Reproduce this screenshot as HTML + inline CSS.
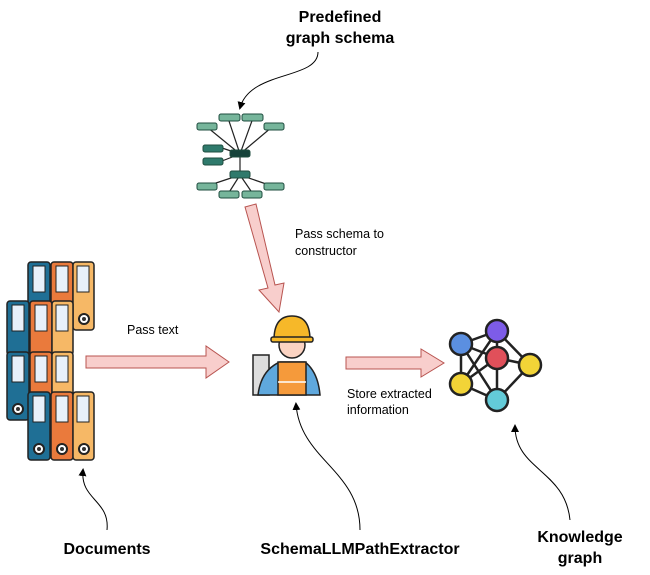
<!DOCTYPE html>
<html><head><style>
body{margin:0;background:#fff;width:650px;height:575px;overflow:hidden}
svg{display:block}
text{font-family:"Liberation Sans",Arial,sans-serif}
</style></head><body>
<svg width="650" height="575" viewBox="0 0 650 575">
<defs><marker id="ah" markerWidth="8" markerHeight="8" refX="6" refY="4" orient="auto" markerUnits="userSpaceOnUse"><path d="M0,0 L8,4 L0,8 z" fill="#000"/></marker></defs>
<g font-weight="bold" font-size="16" text-anchor="middle" fill="#000">
<text x="340" y="22">Predefined</text><text x="340" y="43">graph schema</text>
<text x="107" y="554">Documents</text>
<text x="360" y="554">SchemaLLMPathExtractor</text>
<text x="580" y="542">Knowledge</text><text x="580" y="563">graph</text>
</g>
<g font-size="12.5" fill="#000">
<text x="295" y="238">Pass schema to</text><text x="295" y="255">constructor</text>
<text x="127" y="334">Pass text</text>
<text x="347" y="398">Store extracted</text><text x="347" y="414">information</text>
</g>
<!-- schema graph -->
<g stroke="#222" stroke-width="1.2">
<line x1="240" y1="154" x2="228" y2="118"/><line x1="240" y1="154" x2="253" y2="118"/>
<line x1="240" y1="154" x2="207" y2="127"/><line x1="240" y1="154" x2="272" y2="127"/>
<line x1="240" y1="154" x2="222" y2="148"/><line x1="240" y1="154" x2="222" y2="161"/>
<line x1="240" y1="154" x2="240" y2="175"/>
<line x1="240" y1="175" x2="207" y2="186"/><line x1="240" y1="175" x2="272" y2="186"/>
<line x1="240" y1="175" x2="228" y2="194"/><line x1="240" y1="175" x2="253" y2="194"/>
</g>
<g stroke="#1f4d3f" stroke-width="1">
<rect x="219" y="114" width="21" height="7" rx="2" fill="#76b59b"/><rect x="242" y="114" width="21" height="7" rx="2" fill="#76b59b"/>
<rect x="197" y="123" width="20" height="7" rx="2" fill="#76b59b"/><rect x="264" y="123" width="20" height="7" rx="2" fill="#76b59b"/>
<rect x="203" y="145" width="20" height="7" rx="2" fill="#2f7a6c"/><rect x="203" y="158" width="20" height="7" rx="2" fill="#2f7a6c"/>
<rect x="230" y="150" width="20" height="7" rx="2" fill="#17433b"/>
<rect x="230" y="171" width="20" height="7" rx="2" fill="#2f7a6c"/>
<rect x="197" y="183" width="20" height="7" rx="2" fill="#76b59b"/><rect x="264" y="183" width="20" height="7" rx="2" fill="#76b59b"/>
<rect x="219" y="191" width="20" height="7" rx="2" fill="#76b59b"/><rect x="242" y="191" width="20" height="7" rx="2" fill="#76b59b"/>
</g>
<!-- block arrows -->
<g fill="#f8cecc" stroke="#b85450" stroke-width="1">
<path d="M86,356 L206,356 L206,346 L229,362 L206,378 L206,368 L86,368 z"/>
<path d="M346,357 L421,357 L421,349 L444,363 L421,377 L421,369 L346,369 z"/>
<path d="M245,207 L256,204 L275,285 L284,283 L279,312 L259,290 L268,288 z"/>
</g>
<!-- binders -->
<g stroke="#222" stroke-width="1.5">
<g id="b">
</g>
<rect x="28" y="262" width="22" height="68" rx="3" fill="#1f6f95"/>
<rect x="51" y="262" width="22" height="68" rx="3" fill="#ea7a3c"/>
<rect x="73" y="262" width="21" height="68" rx="3" fill="#f6b866"/>
<rect x="7" y="301" width="22" height="54" rx="3" fill="#1f6f95"/>
<rect x="30" y="301" width="22" height="54" rx="3" fill="#ea7a3c"/>
<rect x="52" y="301" width="21" height="54" rx="3" fill="#f6b866"/>
<rect x="7" y="352" width="22" height="68" rx="3" fill="#1f6f95"/>
<rect x="30" y="352" width="22" height="44" rx="3" fill="#ea7a3c"/>
<rect x="52" y="352" width="21" height="44" rx="3" fill="#f6b866"/>
<rect x="28" y="392" width="22" height="68" rx="3" fill="#1f6f95"/>
<rect x="51" y="392" width="22" height="68" rx="3" fill="#ea7a3c"/>
<rect x="73" y="392" width="21" height="68" rx="3" fill="#f6b866"/>
</g>
<g fill="#e8f1fb" stroke="#222" stroke-width="1">
<rect x="33" y="266" width="12" height="26"/><rect x="56" y="266" width="12" height="26"/><rect x="77" y="266" width="12" height="26"/>
<rect x="12" y="305" width="12" height="26"/><rect x="35" y="305" width="12" height="26"/><rect x="56" y="305" width="12" height="26"/>
<rect x="12" y="356" width="12" height="26"/><rect x="35" y="356" width="12" height="26"/><rect x="56" y="356" width="12" height="26"/>
<rect x="33" y="396" width="12" height="26"/><rect x="56" y="396" width="12" height="26"/><rect x="77" y="396" width="12" height="26"/>
</g>
<g fill="#fff" stroke="#222" stroke-width="2">
<circle cx="84" cy="319" r="5"/><circle cx="18" cy="409" r="5"/>
<circle cx="39" cy="449" r="5"/><circle cx="62" cy="449" r="5"/><circle cx="84" cy="449" r="5"/>
</g>
<g fill="#333"><circle cx="84" cy="319" r="2"/><circle cx="18" cy="409" r="2"/><circle cx="39" cy="449" r="2"/><circle cx="62" cy="449" r="2"/><circle cx="84" cy="449" r="2"/></g>
<!-- worker -->
<g stroke="#222" stroke-width="1.5">
<rect x="253" y="355" width="16" height="40" fill="#ddd"/>
<path d="M258,395 Q261,370 280,362 L305,362 Q318,372 320,395 z" fill="#5fa8dd"/>
<rect x="278" y="362" width="28" height="33" fill="#f59a3b"/>
<line x1="278" y1="382" x2="306" y2="382" stroke="#fff"/>
<circle cx="292" cy="345" r="13" fill="#fbd3c2"/>
<path d="M274,340 Q274,316 292,316 Q310,316 310,340 z" fill="#f6b829"/>
<rect x="271" y="337" width="42" height="5" rx="2" fill="#f6b829"/>
</g>
<!-- knowledge graph -->
<g stroke="#222" stroke-width="2.5">
<line x1="461" y1="344" x2="497" y2="331"/><line x1="461" y1="344" x2="497" y2="358"/><line x1="461" y1="344" x2="461" y2="384"/><line x1="461" y1="344" x2="497" y2="400"/>
<line x1="497" y1="331" x2="497" y2="358"/><line x1="497" y1="331" x2="530" y2="365"/><line x1="497" y1="331" x2="461" y2="384"/>
<line x1="497" y1="358" x2="530" y2="365"/><line x1="497" y1="358" x2="461" y2="384"/><line x1="497" y1="358" x2="497" y2="400"/>
<line x1="530" y1="365" x2="497" y2="400"/><line x1="461" y1="384" x2="497" y2="400"/>
</g>
<g stroke="#222" stroke-width="2.5">
<circle cx="461" cy="344" r="11" fill="#5b8fe0"/><circle cx="497" cy="331" r="11" fill="#7d5ce8"/>
<circle cx="497" cy="358" r="11" fill="#e0505a"/><circle cx="530" cy="365" r="11" fill="#f2d437"/>
<circle cx="461" cy="384" r="11" fill="#f2d437"/><circle cx="497" cy="400" r="11" fill="#63cbd8"/>
</g>
<!-- curvy connectors -->
<g fill="none" stroke="#000" stroke-width="1">
<path d="M318,52 C318,80 250,70 240,108" marker-end="url(#ah)"/>
<path d="M107,530 C110,500 80,500 83,470" marker-end="url(#ah)"/>
<path d="M360,530 C360,470 300,460 296,404" marker-end="url(#ah)"/>
<path d="M570,520 C565,470 515,470 515,426" marker-end="url(#ah)"/>
</g>
</svg>
</body></html>
